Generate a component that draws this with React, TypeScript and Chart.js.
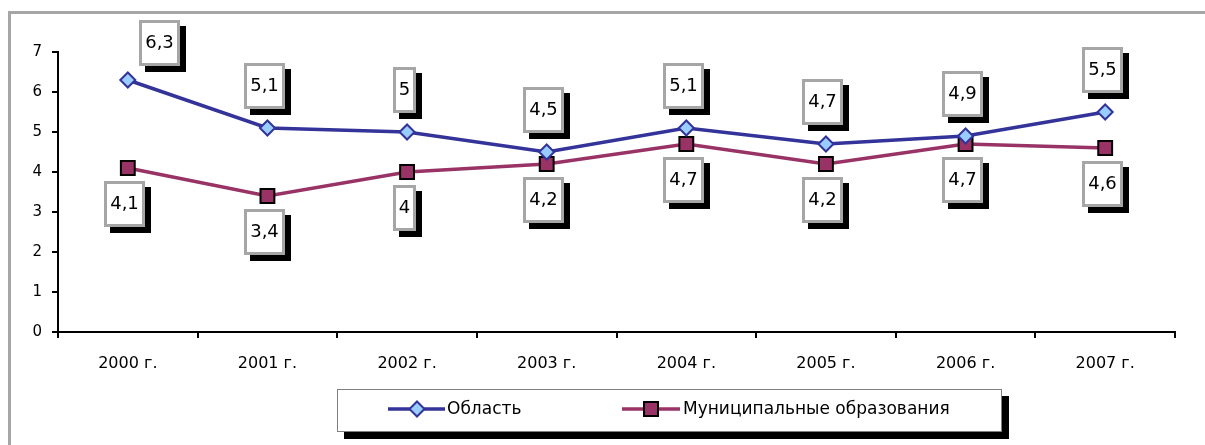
import { useEffect, useRef } from 'react';
import { Chart, registerables } from 'chart.js';

Chart.register(...registerables);

const categories = ['2000 г.', '2001 г.', '2002 г.', '2003 г.', '2004 г.', '2005 г.', '2006 г.', '2007 г.'];
const oblastValues = [6.3, 5.1, 5, 4.5, 5.1, 4.7, 4.9, 5.5];
const municipalValues = [4.1, 3.4, 4, 4.2, 4.7, 4.2, 4.7, 4.6];
const seriesNames = ['Область', 'Муниципальные образования'];
const yMin = 0;
const yMax = 7;
const yStep = 1;

const FONT = '"DejaVu Sans", sans-serif';
const BLUE = '#333399';
const BLUE_FILL = '#99CCFF';
const PLUM = '#993366';

const fmt = (v: number) => String(v).replace('.', ',');

const framePlugin = {
  id: 'frame',
  beforeDraw(chart: any) {
    const ctx = chart.ctx;
    ctx.save();
    ctx.fillStyle = '#fff';
    ctx.fillRect(0, 0, chart.width, chart.height);
    ctx.strokeStyle = '#a6a6a6';
    ctx.lineWidth = 3;
    ctx.strokeRect(9.5, 12.5, chart.width + 100, chart.height + 100);
    ctx.restore();
  },
};

const labelPlugin = {
  id: 'boxLabels',
  afterDatasetsDraw(chart: any) {
    const ctx = chart.ctx;
    ctx.save();
    ctx.font = `18px ${FONT}`;
    chart.data.datasets.forEach((ds: any, di: number) => {
      const meta = chart.getDatasetMeta(di);
      meta.data.forEach((pt: any, i: number) => {
        const text = fmt(ds.data[i]);
        const tw = ctx.measureText(text).width;
        const w = Math.round(tw + 12);
        const h = 46;
        let cx = pt.x - 3;
        let cy = di === 0 ? pt.y - 42 : pt.y + 36;
        if (di === 0 && i === 0) {
          cx = pt.x + 32;
          cy = pt.y - 37;
        }
        const x = Math.round(cx - w / 2);
        const y = Math.round(cy - h / 2);
        ctx.fillStyle = '#000';
        ctx.fillRect(x + 6, y + 6, w, h);
        ctx.fillStyle = '#fff';
        ctx.fillRect(x, y, w, h);
        ctx.strokeStyle = '#a6a6a6';
        ctx.lineWidth = 3;
        ctx.strokeRect(x + 1.5, y + 1.5, w - 3, h - 3);
        ctx.fillStyle = '#000';
        ctx.textAlign = 'center';
        ctx.textBaseline = 'middle';
        ctx.fillText(text, x + w / 2, y + h / 2);
      });
    });
    ctx.restore();
  },
};

const legendPlugin = {
  id: 'boxLegend',
  afterDraw(chart: any) {
    const ctx = chart.ctx;
    ctx.save();
    const bx = 337, by = 389, bw = 665, bh = 43;
    ctx.fillStyle = '#000';
    ctx.fillRect(bx + 7, by + 7, bw, bh);
    ctx.fillStyle = '#fff';
    ctx.fillRect(bx, by, bw, bh);
    ctx.strokeStyle = '#7f7f7f';
    ctx.lineWidth = 1;
    ctx.strokeRect(bx + 0.5, by + 0.5, bw - 1, bh - 1);
    const ly = 409;
    // item 1
    ctx.strokeStyle = BLUE;
    ctx.lineWidth = 3.5;
    ctx.beginPath();
    ctx.moveTo(388, ly);
    ctx.lineTo(445, ly);
    ctx.stroke();
    ctx.beginPath();
    ctx.moveTo(417, ly - 7.5);
    ctx.lineTo(424.5, ly);
    ctx.lineTo(417, ly + 7.5);
    ctx.lineTo(409.5, ly);
    ctx.closePath();
    ctx.fillStyle = BLUE_FILL;
    ctx.fill();
    ctx.lineWidth = 2;
    ctx.strokeStyle = BLUE;
    ctx.stroke();
    // item 2
    ctx.strokeStyle = PLUM;
    ctx.lineWidth = 3.5;
    ctx.beginPath();
    ctx.moveTo(622, ly);
    ctx.lineTo(680, ly);
    ctx.stroke();
    ctx.fillStyle = PLUM;
    ctx.fillRect(644, ly - 7, 14, 14);
    ctx.strokeStyle = '#000';
    ctx.lineWidth = 2;
    ctx.strokeRect(644, ly - 7, 14, 14);
    ctx.fillStyle = '#000';
    ctx.font = `17px ${FONT}`;
    ctx.textAlign = 'left';
    ctx.textBaseline = 'middle';
    ctx.fillText(seriesNames[0], 447, ly + 1);
    ctx.fillText(seriesNames[1], 683, ly + 1);
    ctx.restore();
  },
};

export default function App() {
  const ref = useRef<HTMLCanvasElement | null>(null);
  useEffect(() => {
    document.body.style.margin = '0';
    if (!ref.current) return;
    const chart = new Chart(ref.current, {
      type: 'line',
      data: {
        labels: categories,
        datasets: [
          {
            label: seriesNames[0],
            data: oblastValues,
            borderColor: BLUE,
            borderWidth: 3.5,
            pointStyle: 'rectRot',
            pointRadius: 7.5,
            pointBackgroundColor: BLUE_FILL,
            pointBorderColor: BLUE,
            pointBorderWidth: 2,
            tension: 0,
          },
          {
            label: seriesNames[1],
            data: municipalValues,
            borderColor: PLUM,
            borderWidth: 3.5,
            pointStyle: 'rect',
            pointRadius: 9.8,
            pointBackgroundColor: PLUM,
            pointBorderColor: '#000',
            pointBorderWidth: 2,
            tension: 0,
          },
        ],
      },
      options: {
        responsive: false,
        animation: false,
        layout: { padding: { left: 0, right: 30, top: 52, bottom: 73 } },
        plugins: { legend: { display: false }, tooltip: { enabled: false } },
        scales: {
          x: {
            type: 'category',
            offset: true,
            grid: { drawOnChartArea: false, offset: true, color: '#000', lineWidth: 2, tickLength: 6 },
            border: { color: '#000', width: 2 },
            ticks: { color: '#000', font: { family: FONT, size: 16 }, padding: 16, maxRotation: 0, autoSkip: false },
            afterFit: (s: any) => { s.height = 40; },
          },
          y: {
            min: yMin,
            max: yMax,
            ticks: { stepSize: yStep, color: '#000', font: { family: FONT, size: 15 }, padding: 10 },
            grid: { drawOnChartArea: false, color: '#000', lineWidth: 2, tickLength: 6 },
            border: { color: '#000', width: 2 },
            afterFit: (s: any) => { s.width = 58; },
          },
        },
      },
      plugins: [framePlugin, labelPlugin, legendPlugin],
    });
    return () => chart.destroy();
  }, []);
  return <canvas ref={ref} width={1205} height={445} style={{ display: 'block' }} />;
}
